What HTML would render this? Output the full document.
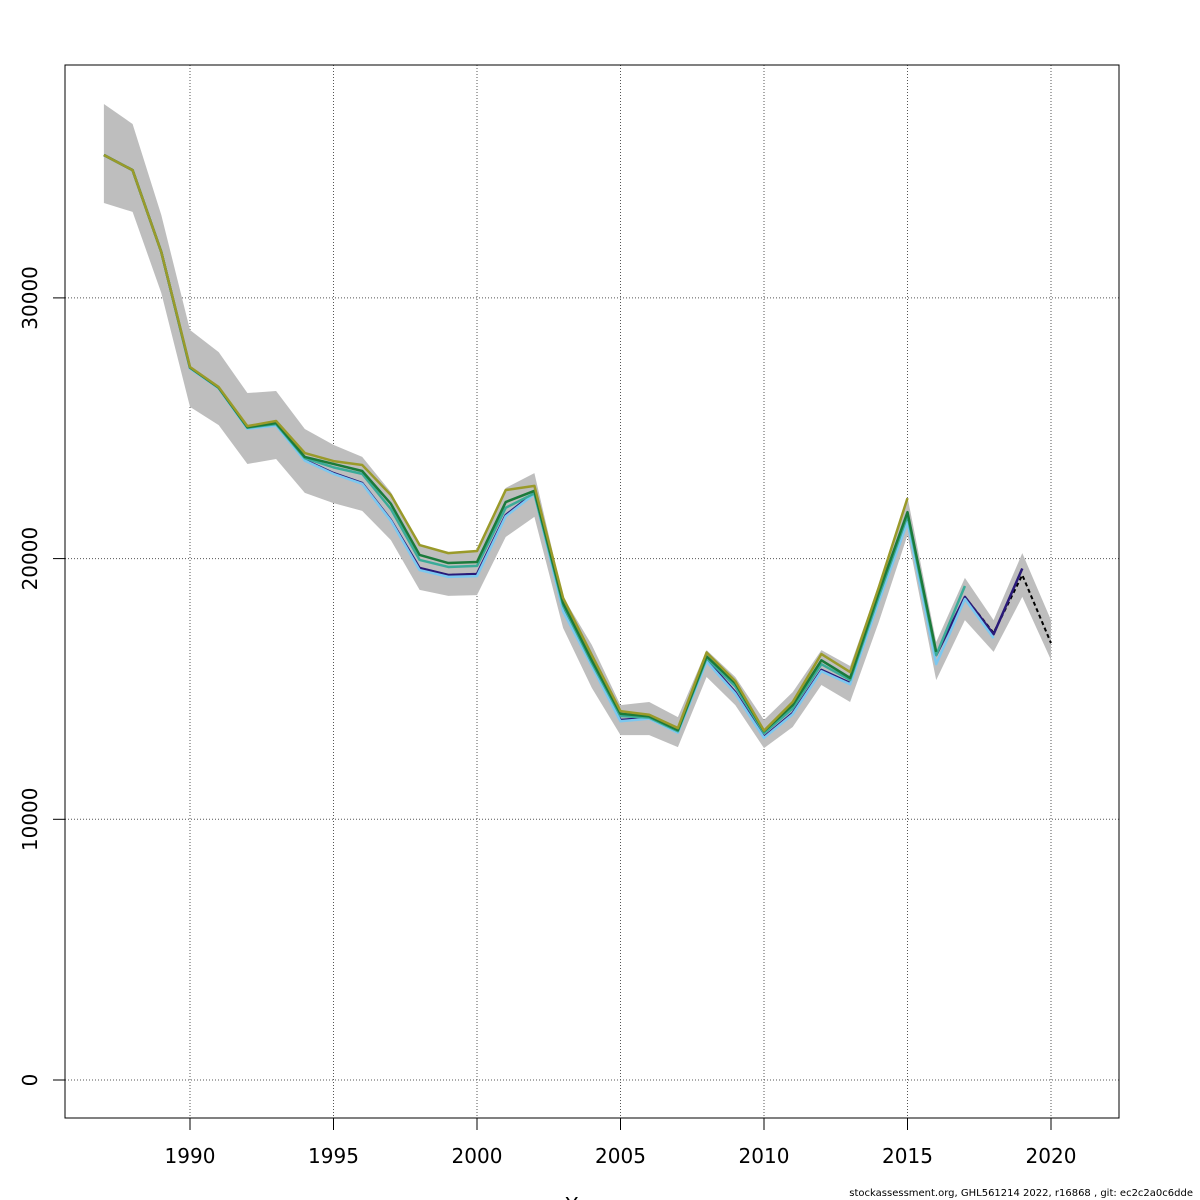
<!DOCTYPE html>
<html><head><meta charset="utf-8"><style>
html,body{margin:0;padding:0;background:#fff;width:1200px;height:1200px;overflow:hidden}
svg{display:block;font-family:"DejaVu Sans","Liberation Sans",sans-serif}
</style></head><body>
<svg id="chart" width="1200" height="1200" viewBox="0 0 1200 1200" xmlns="http://www.w3.org/2000/svg">
<g id="grid"></g>
<g id="band"></g>
<g id="lines"></g>
<rect x="65" y="65" width="1054" height="1053" fill="none" stroke="#000" stroke-width="1"/>
<g id="axes"></g>
<text x="592" y="1212" font-size="20" text-anchor="middle">Years</text>
<text x="1193" y="1196" font-size="10" text-anchor="end">stockassessment.org, GHL561214  2022, r16868 , git: ec2c2a0c6dde</text>
</svg>
<script>
const years=[1987,1988,1989,1990,1991,1992,1993,1994,1995,1996,1997,1998,1999,2000,2001,2002,2003,2004,2005,2006,2007,2008,2009,2010,2011,2012,2013,2014,2015,2016,2017,2018,2019,2020];
const baseVals=[35480,34900,31760,27310,26540,25000,25120,23780,23280,22900,21480,19640,19370,19410,21670,22520,18030,15920,13810,13890,13350,16110,14880,13160,14080,15730,15230,18410,21560,16300,18530,17150,19370,16760];
const upperVals=[37440,36670,33180,28770,27920,26350,26430,24970,24360,23900,22550,20520,20210,20290,22710,23280,18530,16690,14380,14500,13920,16490,15460,13810,14880,16490,15880,18990,22360,16800,19260,17640,20210,17640];
const lowerVals=[33640,33300,30190,25820,25120,23630,23820,22520,22130,21830,20710,18800,18570,18600,20830,21600,17340,15040,13230,13230,12770,15460,14380,12730,13540,15150,14500,17570,20900,15340,17640,16420,18530,16110];
const olivePeel=[35480,34900,31760,27350,26580,25080,25280,24050,23740,23590,22440,20520,20210,20290,22630,22790,18490,16300,14150,14010,13500,16400,15300,13400,14500,16340,15650,18900,22320];
const greenPeel=[35480,34900,31760,27330,26560,25040,25200,23900,23630,23360,22100,20140,19830,19870,22170,22600,18300,16100,14050,13950,13420,16250,15220,13380,14380,16100,15420,18700,21780,16420];
const tealPeel=[35480,34900,31760,27320,26550,25020,25160,23850,23500,23250,21900,19950,19680,19720,21950,22500,18200,16000,13960,13900,13380,16180,15100,13300,14250,15950,15340,18550,21650,16300,18950];
const lightbluePeel=[35480,34900,31760,27300,26530,24980,25100,23760,23250,22870,21450,19560,19300,19330,21620,22480,17980,15880,13760,13860,13320,16050,14820,13120,14030,15680,15180,18350,21400,15950,18450,16950];
const navyPeel=[35480,34900,31760,27310,26540,25000,25120,23780,23280,22900,21480,19640,19370,19410,21670,22520,18030,15920,13810,13890,13350,16110,14880,13160,14080,15730,15230,18410,21560,16300,18530,17100,19620];
const xTicks=[1990,1995,2000,2005,2010,2015,2020];
const yTicks=[0,10000,20000,30000];

const NS="http://www.w3.org/2000/svg";
function xs(yr){return 190+(yr-1990)*28.7;}
function ys(v){return 1080-v*0.02607;}
function mk(tag,parent,attrs){const e=document.createElementNS(NS,tag);for(const k in attrs)e.setAttribute(k,attrs[k]);parent.appendChild(e);return e;}
const grid=document.getElementById('grid'),axes=document.getElementById('axes');
xTicks.forEach(t=>{
  const g=mk('line',grid,{x1:xs(t),x2:xs(t),y1:65,y2:1118,stroke:'#555','stroke-dasharray':'1,2','stroke-width':1});
  
  
  const tk=mk('line',axes,{x1:xs(t),x2:xs(t),y1:1118,y2:1130,stroke:'#000'});
  
  
  const lb=mk('text',axes,{x:xs(t),y:1163,'font-size':20,'text-anchor':'middle'});
  lb.textContent=t;
  
  
});
yTicks.forEach(t=>{
  const g=mk('line',grid,{x1:65,x2:1119,y1:ys(t),y2:ys(t),stroke:'#555','stroke-dasharray':'1,2','stroke-width':1});
  
  
  const tk=mk('line',axes,{x1:53,x2:65,y1:ys(t),y2:ys(t),stroke:'#000'});
  
  
  const lb=mk('text',axes,{x:37,y:ys(t),'font-size':20,'text-anchor':'middle',transform:'rotate(-90 37 '+ys(t)+')'});
  lb.textContent=t;
  
  
});
let d='';
years.forEach((y,i)=>{d+=(i?'L':'M')+xs(y)+','+ys(upperVals[i]);});
for(let i=years.length-1;i>=0;i--)d+='L'+xs(years[i])+','+ys(lowerVals[i]);
const band=mk('path',document.getElementById('band'),{d:d+'Z',fill:'#bebebe',stroke:'none'});


const lines=document.getElementById('lines');
function line(vals,color,w,name,dash){
  let p='';vals.forEach((v,i)=>{p+=(i?'L':'M')+xs(years[i])+','+ys(v);});
  const a={d:p,fill:'none',stroke:color,'stroke-width':w,'stroke-linejoin':'round'};
  if(dash)a['stroke-dasharray']=dash;
  const e=mk('path',lines,a);
  
  
}
line(baseVals,'#000',2,'base-run','4,3');
line(navyPeel,'#2a1a78',2.5,'peel-2019');
line(lightbluePeel,'#7cc8f0',2.5,'peel-2018');
line(tealPeel,'#3aab98',2.5,'peel-2017');
line(greenPeel,'#1b7a3a',2.5,'peel-2016');
line(olivePeel,'#9a9a2a',2.5,'peel-2015');
</script>
</body></html>
